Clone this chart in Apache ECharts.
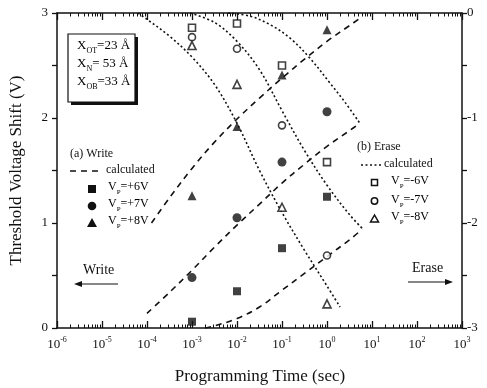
<!DOCTYPE html>
<html>
<head>
<meta charset="utf-8">
<script src="https://cdn.jsdelivr.net/npm/echarts@6/dist/echarts.min.js"></script>
<style>
  html, body { margin: 0; padding: 0; background: #fff; }
  #chart { width: 487px; height: 388px; }
</style>
</head>
<body>
<div id="chart"></div>
<script>
// Programming time is stored as log10(seconds).
const measTimes = [-3, -2, -1, 0];

// Write: threshold voltage shift (V), left axis
const write6 = [0.06, 0.35, 0.76, 1.25];
const write7 = [0.48, 1.05, 1.58, 2.06];
const write8 = [1.26, 1.92, 2.41, 2.84];

// Erase: threshold voltage shift (V), right axis
const erase6 = [-0.14, -0.10, -0.50, -1.42];
const erase7 = [-0.23, -0.34, -1.07, -2.31];
const erase8 = [-0.31, -0.68, -1.85, -2.77];

// Calculated write curves (log10 t, V)
const calcW8T = [-3.9, -3.5, -3.0, -2.5, -2.0, -1.5, -1.0, -0.5, 0.0, 0.5, 0.73];
const calcW8V = [1.00, 1.24, 1.52, 1.77, 1.99, 2.19, 2.38, 2.56, 2.73, 2.88, 2.95];
const calcW7T = [-4.0, -3.5, -3.0, -2.5, -2.0, -1.5, -1.0, -0.5, 0.0, 0.5, 0.73];
const calcW7V = [0.14, 0.34, 0.55, 0.77, 0.98, 1.18, 1.38, 1.56, 1.73, 1.88, 1.95];
const calcW6T = [-2.71, -2.5, -2.0, -1.5, -1.0, -0.5, 0.0, 0.5, 0.78];
const calcW6V = [0.00, 0.02, 0.09, 0.20, 0.36, 0.52, 0.68, 0.84, 0.94];

// Calculated erase curves (log10 t, V)
const calcE6T = [-2.20, -1.71, -1.27, -0.82, -0.38, 0.07, 0.40, 0.73];
const calcE6V = [0.00, -0.03, -0.11, -0.24, -0.43, -0.67, -0.85, -1.05];
const calcE7T = [-3.04, -2.5, -2.0, -1.5, -1.0, -0.5, 0.0, 0.5, 0.78];
const calcE7V = [0.00, -0.09, -0.27, -0.54, -0.93, -1.31, -1.64, -1.92, -2.05];
const calcE8T = [-4.2, -4.0, -3.5, -3.0, -2.5, -2.0, -1.5, -1.0, -0.5, 0.0, 0.29];
const calcE8V = [0.00, -0.06, -0.22, -0.42, -0.68, -1.05, -1.50, -1.90, -2.26, -2.60, -2.80];

// Axis labels
const decadeExps = ['-6', '-5', '-4', '-3', '-2', '-1', '0', '1', '2', '3'];
const leftLabels = ['0', '1', '2', '3'];
const rightLabels = ['-3', '-2', '-1', '0'];

const pairs = (xs, ys) => xs.map((x, i) => [x, ys[i]]);

// minor ticks at 2..9 within each decade
const minorTicks = [];
for (let n = -6; n < 3; n++) {
  for (let k = 2; k <= 9; k++) minorTicks.push(n + Math.log10(k));
}

const SERIF = '"Liberation Serif", "DejaVu Serif", serif';
const BLACK = '#111';

const chart = echarts.init(document.getElementById('chart'), null, { renderer: 'canvas' });

const supRich = {
  b: { fontFamily: SERIF, fontSize: 13, color: BLACK, verticalAlign: 'bottom' },
  s: { fontFamily: SERIF, fontSize: 8, color: BLACK, verticalAlign: 'bottom', padding: [0, 0, 7, 0] }
};
function subRich(size) {
  return {
    t: { fontFamily: SERIF, fontSize: size, color: BLACK, verticalAlign: 'bottom', padding: [0, 0, 3, 0] },
    u: { fontFamily: SERIF, fontSize: Math.round(size * 0.6), color: BLACK, verticalAlign: 'bottom' }
  };
}
const boxRich = subRich(13);
const legRich = subRich(12);

function lineSeries(name, t, v, axis, dash) {
  return {
    name, type: 'line', yAxisIndex: axis, xAxisIndex: 0,
    data: pairs(t, v), smooth: 0.35, showSymbol: false, symbol: 'none',
    lineStyle: { color: BLACK, width: 1.6, type: dash },
    z: 2, silent: true
  };
}
function pointSeries(name, vals, axis, symbol, filled, size) {
  return {
    name, type: 'scatter', yAxisIndex: axis, xAxisIndex: 0,
    data: pairs(measTimes, vals), symbol, symbolSize: size,
    itemStyle: filled
      ? { color: BLACK }
      : { color: '#fff', borderColor: BLACK, borderWidth: 1.6 },
    z: 5
  };
}

const DASH = [6, 5];
const DOT = [2, 2.5];

const option = {
  animation: false,
  backgroundColor: '#fff',
  grid: { left: 57, right: 25, top: 13, bottom: 60 },
  xAxis: [
    {
      type: 'value', position: 'bottom', min: -6, max: 3, interval: 1,
      axisLine: { onZero: false, lineStyle: { color: BLACK, width: 1.5 } },
      axisTick: { inside: true, length: 7, lineStyle: { color: BLACK, width: 1.3 } },
      splitLine: { show: false },
      axisLabel: {
        margin: 8,
        formatter: (v) => '{b|10}{s|' + decadeExps[Math.round(v) + 6] + '}',
        rich: supRich
      }
    },
    {
      type: 'value', position: 'bottom', min: -6, max: 3,
      axisLine: { show: false, onZero: false },
      axisTick: { inside: true, length: 3.5, customValues: minorTicks, lineStyle: { color: BLACK, width: 1 } },
      axisLabel: { show: false }, splitLine: { show: false }
    },
    {
      type: 'value', position: 'top', min: -6, max: 3, interval: 1,
      axisLine: { onZero: false, lineStyle: { color: BLACK, width: 1.5 } },
      axisTick: { inside: true, length: 7, lineStyle: { color: BLACK, width: 1.3 } },
      axisLabel: { show: false }, splitLine: { show: false }
    },
    {
      type: 'value', position: 'top', min: -6, max: 3,
      axisLine: { show: false, onZero: false },
      axisTick: { inside: true, length: 3.5, customValues: minorTicks, lineStyle: { color: BLACK, width: 1 } },
      axisLabel: { show: false }, splitLine: { show: false }
    }
  ],
  yAxis: [
    {
      type: 'value', position: 'left', min: 0, max: 3, interval: 0.5,
      axisLine: { onZero: false, lineStyle: { color: BLACK, width: 1.5 } },
      axisTick: { inside: false, length: 5, lineStyle: { color: BLACK, width: 1.3 } },
      splitLine: { show: false },
      axisLabel: {
        margin: 9, color: BLACK, fontFamily: SERIF, fontSize: 13,
        formatter: (v) => Number.isInteger(v) ? leftLabels[v] : ''
      },
      name: 'Threshold Voltage Shift (V)', nameLocation: 'middle', nameGap: 32,
      nameTextStyle: { fontFamily: SERIF, fontSize: 17, color: BLACK }
    },
    {
      type: 'value', position: 'right', min: -3, max: 0, interval: 0.5,
      axisLine: { onZero: false, lineStyle: { color: BLACK, width: 1.5 } },
      axisTick: { inside: false, length: 5, lineStyle: { color: BLACK, width: 1.3 } },
      splitLine: { show: false },
      axisLabel: {
        margin: 5, color: BLACK, fontFamily: SERIF, fontSize: 13,
        formatter: (v) => Number.isInteger(v) ? rightLabels[v + 3] : ''
      }
    }
  ],
  series: [
    lineSeries('calc +8V', calcW8T, calcW8V, 0, DASH),
    lineSeries('calc +7V', calcW7T, calcW7V, 0, DASH),
    lineSeries('calc +6V', calcW6T, calcW6V, 0, DASH),
    lineSeries('calc -6V', calcE6T, calcE6V, 1, DOT),
    lineSeries('calc -7V', calcE7T, calcE7V, 1, DOT),
    lineSeries('calc -8V', calcE8T, calcE8V, 1, DOT),
    pointSeries('VP=+6V', write6, 0, 'rect', true, 8),
    pointSeries('VP=+7V', write7, 0, 'circle', true, 9),
    pointSeries('VP=+8V', write8, 0, 'triangle', true, 9),
    pointSeries('VP=-6V', erase6, 1, 'rect', false, 7),
    pointSeries('VP=-7V', erase7, 1, 'circle', false, 7),
    pointSeries('VP=-8V', erase8, 1, 'triangle', false, 8)
  ],
  graphic: [
    // x-axis title
    {
      type: 'text', x: 260, y: 368,
      style: { text: 'Programming Time (sec)', font: '17px ' + SERIF, fill: BLACK, align: 'center' }
    },
    // thickness box with drop shadow
    { type: 'rect', shape: { x: 71, y: 37, width: 67, height: 68 }, style: { fill: BLACK }, z: 10 },
    { type: 'rect', shape: { x: 68, y: 34, width: 67, height: 68 }, style: { fill: '#fff', stroke: BLACK, lineWidth: 1.2 }, z: 11 },
    { type: 'text', x: 77, y: 39, z: 12, style: { text: '{t|X}{u|OT}{t|=23 Å}', rich: boxRich } },
    { type: 'text', x: 77, y: 57, z: 12, style: { text: '{t|X}{u|N}{t|= 53 Å}', rich: boxRich } },
    { type: 'text', x: 77, y: 75, z: 12, style: { text: '{t|X}{u|OB}{t|=33 Å}', rich: boxRich } },
    // write legend
    { type: 'text', x: 70, y: 148, style: { text: '(a) Write', font: '12px ' + SERIF, fill: BLACK } },
    { type: 'line', shape: { x1: 70, y1: 171, x2: 103, y2: 171 }, style: { stroke: BLACK, lineWidth: 1.5, lineDash: DASH } },
    { type: 'text', x: 106, y: 164, style: { text: 'calculated', font: '12px ' + SERIF, fill: BLACK } },
    { type: 'rect', shape: { x: 88, y: 185, width: 8, height: 8 }, style: { fill: BLACK } },
    { type: 'text', x: 108, y: 181, style: { text: '{t|V}{u|P}{t|=+6V}', rich: legRich } },
    { type: 'circle', shape: { cx: 92, cy: 206, r: 4.3 }, style: { fill: BLACK } },
    { type: 'text', x: 108, y: 198, style: { text: '{t|V}{u|P}{t|=+7V}', rich: legRich } },
    { type: 'polygon', shape: { points: [[92, 218], [87, 227], [97, 227]] }, style: { fill: BLACK } },
    { type: 'text', x: 108, y: 215, style: { text: '{t|V}{u|P}{t|=+8V}', rich: legRich } },
    // erase legend
    { type: 'text', x: 357, y: 141, style: { text: '(b) Erase', font: '12px ' + SERIF, fill: BLACK } },
    { type: 'line', shape: { x1: 361, y1: 165, x2: 381, y2: 165 }, style: { stroke: BLACK, lineWidth: 1.5, lineDash: DOT } },
    { type: 'text', x: 384, y: 158, style: { text: 'calculated', font: '12px ' + SERIF, fill: BLACK } },
    { type: 'rect', shape: { x: 371.5, y: 179.5, width: 6, height: 6 }, style: { fill: '#fff', stroke: BLACK, lineWidth: 1.5 } },
    { type: 'text', x: 391, y: 175, style: { text: '{t|V}{u|P}{t|=-6V}', rich: legRich } },
    { type: 'circle', shape: { cx: 374.5, cy: 201, r: 3.2 }, style: { fill: '#fff', stroke: BLACK, lineWidth: 1.5 } },
    { type: 'text', x: 391, y: 194, style: { text: '{t|V}{u|P}{t|=-7V}', rich: legRich } },
    { type: 'polygon', shape: { points: [[374.5, 215], [370.5, 222], [378.5, 222]] }, style: { fill: '#fff', stroke: BLACK, lineWidth: 1.5 } },
    { type: 'text', x: 391, y: 211, style: { text: '{t|V}{u|P}{t|=-8V}', rich: legRich } },
    // direction arrows
    { type: 'text', x: 83, y: 263, style: { text: 'Write', font: '14px ' + SERIF, fill: BLACK } },
    { type: 'line', shape: { x1: 78, y1: 284, x2: 118, y2: 284 }, style: { stroke: BLACK, lineWidth: 1.2 } },
    { type: 'polygon', shape: { points: [[74, 284], [82, 281], [82, 287]] }, style: { fill: BLACK } },
    { type: 'text', x: 412, y: 261, style: { text: 'Erase', font: '14px ' + SERIF, fill: BLACK } },
    { type: 'line', shape: { x1: 408, y1: 282, x2: 448, y2: 282 }, style: { stroke: BLACK, lineWidth: 1.2 } },
    { type: 'polygon', shape: { points: [[453, 282], [445, 279], [445, 285]] }, style: { fill: BLACK } }
  ]
};

chart.setOption(option);
</script>
</body>
</html>
